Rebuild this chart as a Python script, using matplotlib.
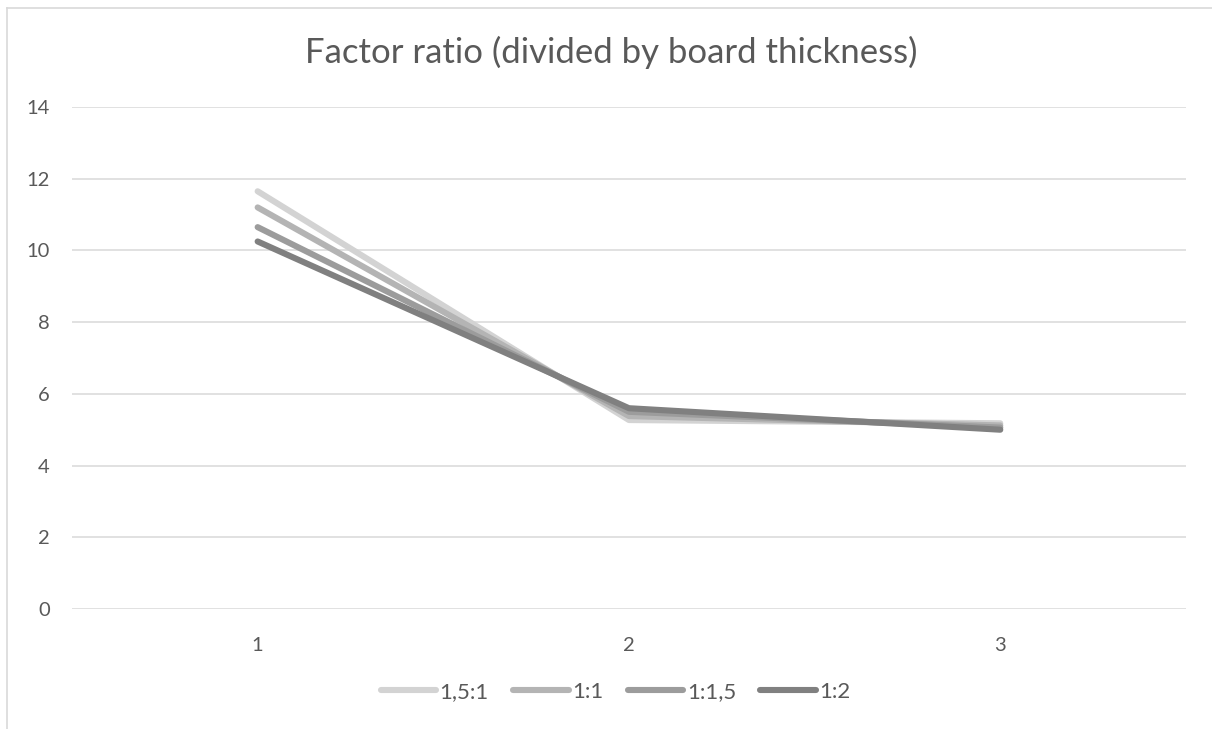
import matplotlib.pyplot as plt
from matplotlib.lines import Line2D

plt.rcParams['font.family'] = ['Lato', 'DejaVu Sans']

x = [1, 2, 3]
series = ['1,5:1', '1:1', '1:1,5', '1:2']
values = {
    '1,5:1': [11.65, 5.27, 5.18],
    '1:1':   [11.2, 5.38, 5.12],
    '1:1,5': [10.65, 5.5, 5.06],
    '1:2':   [10.25, 5.6, 5.0],
}
colors = ['#d3d3d3', '#b4b4b4', '#9c9c9c', '#808080']

fig = plt.figure(figsize=(12.12, 7.29), dpi=100)
ax = fig.add_axes([0.0594, 0.1646, 0.9191, 0.6886])

for name, c in zip(series, colors):
    ax.plot(x, values[name], color=c, linewidth=4.4, solid_capstyle='round',
            solid_joinstyle='round', label=name)

ax.set_xlim(0.5, 3.5)
ax.set_ylim(0, 14)
ax.set_yticks(range(0, 15, 2))
ax.set_xticks(x)
ax.grid(axis='y', color='#d9d9d9', linewidth=1.1)
ax.set_axisbelow(True)
for s in ax.spines.values():
    s.set_visible(False)
ax.tick_params(length=0, labelsize=14.5, colors='#595959')
ax.tick_params(axis='y', pad=16)
ax.tick_params(axis='x', pad=20)

fig.text(0.504, 0.928, 'Factor ratio (divided by board thickness)', ha='center',
         va='center', fontsize=25, color='#595959')

ax.legend(loc='center', bbox_to_anchor=(0.488, -0.165), ncol=4, frameon=False,
          fontsize=16, labelcolor='#595959', handlelength=2.5,
          handletextpad=0.15, columnspacing=1.1)

# outer chart frame
fig.add_artist(Line2D([7 / 1212, 7 / 1212], [0, 1 - 8 / 729], color='#d9d9d9',
                      linewidth=1.2, transform=fig.transFigure))
fig.add_artist(Line2D([7 / 1212, 1], [1 - 8 / 729, 1 - 8 / 729], color='#d9d9d9',
                      linewidth=1.2, transform=fig.transFigure))

fig.savefig('out.png', dpi=100)
